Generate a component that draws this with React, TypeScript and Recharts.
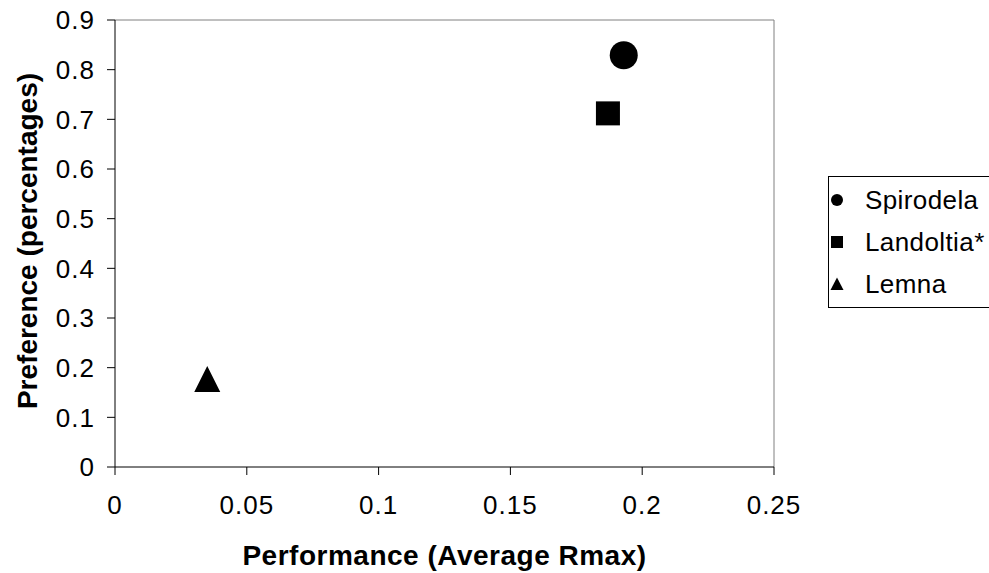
import React from 'react';
import { ScatterChart, Scatter, XAxis, YAxis, ReferenceLine, Legend } from 'recharts';

const seriesNames = ['Spirodela', 'Landoltia*', 'Lemna'];
const spirodelaData = [{ x: 0.193, y: 0.829 }];
const landoltiaData = [{ x: 0.187, y: 0.712 }];
const lemnaData = [{ x: 0.035, y: 0.177 }];
const xTicks = [0, 0.05, 0.1, 0.15, 0.2, 0.25];
const yTicks = [0, 0.1, 0.2, 0.3, 0.4, 0.5, 0.6, 0.7, 0.8, 0.9];
const xTitle = 'Performance (Average Rmax)';
const yTitle = 'Preference (percentages)';

const FONT = '"Liberation Sans", Arial, sans-serif';

const CircleShape = (p: any) => <circle cx={p.cx} cy={p.cy} r={14} fill="#000" />;
const SquareShape = (p: any) => <rect x={p.cx - 12} y={p.cy - 12} width={24} height={24} fill="#000" />;
const TriangleShape = (p: any) => (
  <path d={`M${p.cx},${p.cy - 13}L${p.cx + 13},${p.cy + 13}L${p.cx - 13},${p.cy + 13}Z`} fill="#000" />
);

const LegendMarker = ({ type }: { type: string }) => {
  if (type === 'square') return <rect x={1} y={1} width={12} height={12} fill="#000" />;
  if (type === 'triangle') return <path d="M7,0.5L13.5,13L0.5,13Z" fill="#000" />;
  return <circle cx={7} cy={7} r={6} fill="#000" />;
};

const LegendBox = (props: any) => {
  const payload = [...(props.payload || [])].sort(
    (a: any, b: any) => seriesNames.indexOf(a.value) - seriesNames.indexOf(b.value)
  );
  return (
    <div
      style={{
        boxSizing: 'border-box',
        width: 200,
        height: 132,
        border: '1px solid #000',
        background: '#fff',
        paddingTop: 2,
        fontFamily: FONT,
        fontSize: 26,
        color: '#000',
      }}
    >
      {payload.map((e: any, i: number) => (
        <div key={i} style={{ height: 42, display: 'flex', alignItems: 'center', position: 'relative' }}>
          <svg width={14} height={14} style={{ position: 'absolute', left: 1 }}>
            <LegendMarker type={e.type} />
          </svg>
          <span style={{ position: 'absolute', left: 36, letterSpacing: 0.4, lineHeight: '42px' }}>{e.value}</span>
        </div>
      ))}
    </div>
  );
};

const XTitle = (props: any) => {
  const vb = props.viewBox || { x: 115, y: 467, width: 659, height: 106 };
  const x = vb.x + vb.width / 2;
  const y = vb.y + vb.height - 8;
  return (
    <text x={x} y={y} textAnchor="middle" fontFamily={FONT} fontSize={28} fontWeight="bold" fill="#000" letterSpacing={0.5}>
      {xTitle}
    </text>
  );
};

const YTitle = (props: any) => {
  const vb = props.viewBox || { x: 0, y: 20, width: 115, height: 447 };
  const x = vb.x + 36.5;
  const y = vb.y + vb.height / 2 - 2.5;
  return (
    <text
      x={x}
      y={y}
      transform={`rotate(-90 ${x} ${y})`}
      textAnchor="middle"
      fontFamily={FONT}
      fontSize={28}
      fontWeight="bold"
      fill="#000"
    >
      {yTitle}
    </text>
  );
};

export default function App() {
  return (
    <div style={{ position: 'absolute', left: 0, top: 0, width: 989, height: 573, overflow: 'hidden', background: '#fff' }}>
      <ScatterChart width={989} height={573} margin={{ top: 20, right: 215, bottom: 0, left: 0 }}>
        <XAxis
          type="number"
          dataKey="x"
          domain={[0, 0.25]}
          ticks={xTicks}
          interval={0}
          height={106}
          axisLine={{ stroke: '#000', strokeWidth: 1 }}
          tickLine={{ stroke: '#000', strokeWidth: 1 }}
          tickSize={8}
          tickMargin={21}
          tick={{ fill: '#000', fontFamily: FONT, fontSize: 26, letterSpacing: 1 }}
          label={<XTitle />}
        />
        <YAxis
          type="number"
          dataKey="y"
          domain={[0, 0.9]}
          ticks={yTicks}
          interval={0}
          width={115}
          axisLine={{ stroke: '#000', strokeWidth: 1 }}
          tickLine={{ stroke: '#000', strokeWidth: 1 }}
          tickSize={8}
          tickMargin={12}
          tick={{ fill: '#000', fontFamily: FONT, fontSize: 26, letterSpacing: 1 }}
          label={<YTitle />}
        />
        <ReferenceLine y={0.9} stroke="#808080" strokeWidth={1} />
        <ReferenceLine x={0.25} stroke="#808080" strokeWidth={1} />
        <Legend
          layout="horizontal"
          verticalAlign="middle"
          align="center"
          content={<LegendBox />}
          wrapperStyle={{ left: 828, top: 176, width: 200, height: 132 }}
        />
        <Scatter name={seriesNames[0]} data={spirodelaData} fill="#000" legendType="circle" shape={CircleShape} isAnimationActive={false} />
        <Scatter name={seriesNames[1]} data={landoltiaData} fill="#000" legendType="square" shape={SquareShape} isAnimationActive={false} />
        <Scatter name={seriesNames[2]} data={lemnaData} fill="#000" legendType="triangle" shape={TriangleShape} isAnimationActive={false} />
      </ScatterChart>
    </div>
  );
}
